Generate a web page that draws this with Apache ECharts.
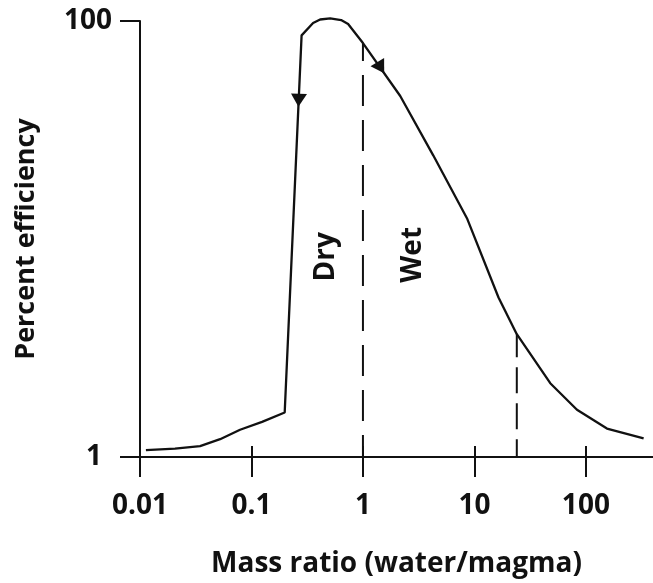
<!DOCTYPE html>
<html>
<head>
<meta charset="utf-8">
<script src="https://cdn.jsdelivr.net/npm/echarts@6/dist/echarts.min.js"></script>
<style>
  html, body { margin: 0; padding: 0; background: #fff; }
  #chart { width: 653px; height: 583px; }
</style>
</head>
<body>
<div id="chart"></div>
<script>
// Efficiency of magma–water interaction against water/magma mass ratio
const massRatio  = [0.0113, 0.0206, 0.0346, 0.0523, 0.079, 0.1245, 0.1986, 0.2816, 0.357, 0.413, 0.508, 0.637, 0.736, 1, 2.16, 4.27, 8.57, 16.45, 24, 47.9, 83.2, 154.5, 329.6];
const efficiency = [1.076, 1.093, 1.122, 1.207, 1.334, 1.45, 1.60, 85.9, 97.9, 101.6, 102.7, 101.0, 96.9, 79.2, 45.3, 24.2, 12.46, 5.39, 3.66, 2.18, 1.647, 1.35, 1.216];

// direction arrows along the curve
const arrowRatio = [0.2653, 1.445];
const arrowEff   = [43.3, 61.1];

// vertical dashed dividers (ratio, height where they meet the curve)
const dividerRatio = [1, 24];
const dividerTop   = [79.2, 3.66];

// regime labels
const regimeNames = ['Dry', 'Wet'];
const regimeRatio = [0.467, 2.82];
const regimeEff   = [8.28, 8.46];

const xTickValues = [0.01, 0.1, 1, 10, 100];
const xTickLabels = ['0.01', '0.1', '1', '10', '100'];
const yTickValues = [1, 100];
const yTickLabels = ['1', '100'];

const INK = '#111';
const FONT = '"Open Sans", "Liberation Sans", sans-serif';

const chart = echarts.init(document.getElementById('chart'), null, { renderer: 'canvas' });

const curve = massRatio.map((x, i) => [x, efficiency[i]]);
const arrows = arrowRatio.map((x, i) => ({
  value: [x, arrowEff[i]],
  symbolRotate: i === 0 ? 177.4 : -148
}));
// dividers are drawn from where they meet the curve down to the axis
const dashStyles = [
  { type: [31, 14], dashOffset: 13 },
  { type: [26, 10], dashOffset: 3 }
];
const dividerSeries = dividerRatio.map((x, i) => ({
  type: 'line',
  data: [[x, dividerTop[i]], [x, 1]],
  symbol: 'none',
  silent: true,
  clip: false,
  lineStyle: Object.assign({ color: INK, width: 2 }, dashStyles[i]),
  z: 2
}));

const xBase = {
  type: 'log',
  logBase: 10,
  min: 0.01,
  max: 400,
  position: 'bottom',
  axisLine: { onZero: false },
  splitLine: { show: false },
  minorTick: { show: false }
};

chart.setOption({
  animation: false,
  backgroundColor: '#fff',
  grid: { left: 140, right: 0, top: 21, bottom: 122, containLabel: false },
  xAxis: [
    Object.assign({}, xBase, {
      name: 'Mass ratio (water/magma)',
      nameLocation: 'middle',
      nameGap: 93,
      nameTextStyle: { fontFamily: FONT, fontWeight: 'bold', fontSize: 28, color: INK },
      axisLine: { show: true, onZero: false, lineStyle: { color: INK, width: 2 } },
      axisTick: { show: true, inside: false, length: 20, lineStyle: { color: INK, width: 2 }, customValues: xTickValues },
      axisLabel: {
        show: true, margin: 35, customValues: xTickValues,
        fontFamily: FONT, fontWeight: 'bold', fontSize: 28, color: INK,
        formatter: v => xTickLabels[xTickValues.findIndex(t => Math.abs(Math.log10(t) - Math.log10(v)) < 1e-6)] || ''
      }
    }),
    Object.assign({}, xBase, {
      axisLine: { show: false, onZero: false },
      axisTick: { show: true, inside: true, length: 11, lineStyle: { color: INK, width: 2 }, customValues: xTickValues.slice(1) },
      axisLabel: { show: false }
    })
  ],
  yAxis: {
    type: 'log',
    logBase: 10,
    min: 1,
    max: 100,
    name: 'Percent efficiency',
    nameLocation: 'middle',
    nameRotate: 90,
    nameGap: 100,
    nameTextStyle: { fontFamily: FONT, fontWeight: 'bold', fontSize: 27, color: INK },
    splitLine: { show: false },
    minorTick: { show: false },
    axisLine: { show: true, lineStyle: { color: INK, width: 2 } },
    axisTick: { show: true, inside: false, length: 20, lineStyle: { color: INK, width: 2 }, customValues: yTickValues },
    axisLabel: {
      show: true, margin: 28, customValues: yTickValues,
      fontFamily: FONT, fontWeight: 'bold', fontSize: 28, color: INK,
      formatter: v => Math.abs(v - 1) < 1e-6 ? '{one|' + yTickLabels[0] + '}' : yTickLabels[1],
      rich: { one: { fontFamily: FONT, fontWeight: 'bold', fontSize: 28, color: INK, padding: [0, 10, 0, 0] } }
    }
  },
  series: [
    {
      type: 'line',
      name: 'efficiency',
      data: curve,
      symbol: 'none',
      smooth: false,
      clip: false,
      silent: true,
      lineStyle: { color: INK, width: 2.3 },
      z: 3
    },
    ...dividerSeries,
    {
      type: 'scatter',
      name: 'arrows',
      data: arrows,
      symbol: 'triangle',
      symbolSize: [16, 13],
      itemStyle: { color: INK, opacity: 1 },
      silent: true,
      clip: false,
      z: 4
    },
    {
      type: 'scatter',
      name: 'regimes',
      data: regimeNames.map((n, i) => ({ name: n, value: [regimeRatio[i], regimeEff[i]] })),
      symbolSize: 0,
      silent: true,
      itemStyle: { opacity: 1 },
      label: {
        show: true,
        position: 'inside',
        rotate: 90,
        formatter: p => p.name,
        fontFamily: FONT, fontWeight: 'bold', fontSize: 28, color: INK
      },
      z: 5
    }
  ]
});
</script>
</body>
</html>
